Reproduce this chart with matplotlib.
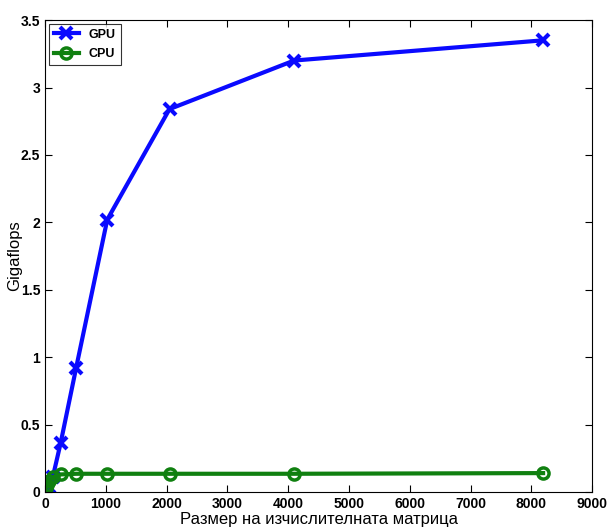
import matplotlib
matplotlib.use("Agg")
import matplotlib.pyplot as plt
from matplotlib.ticker import FuncFormatter

plt.rcParams["font.family"] = ["Liberation Sans", "DejaVu Sans"]

sizes = [16, 32, 64, 128, 256, 512, 1024, 2048, 4096, 8192]
gpu_gflops = [0.0, 0.01, 0.04, 0.11, 0.36, 0.92, 2.02, 2.84, 3.20, 3.35]
cpu_gflops = [0.03, 0.05, 0.08, 0.11, 0.13, 0.135, 0.135, 0.135, 0.135, 0.14]

x_ticks = list(range(0, 9001, 1000))
y_ticks = [0, 0.5, 1, 1.5, 2, 2.5, 3, 3.5]

fig = plt.figure(figsize=(6.08, 5.29), dpi=100)
ax = fig.add_axes([0.074, 0.070, 0.9, 0.892])

ax.plot(sizes, gpu_gflops, color="#0a0aff", lw=3, marker="x", ms=9, mew=3, label="GPU")
ax.plot(sizes, cpu_gflops, color="#108010", lw=3, marker="o", ms=8, mew=2.5,
        mfc="none", label="CPU")

ax.set_xlim(0, 9000)
ax.set_ylim(0, 3.5)
ax.set_xticks(x_ticks)
ax.set_yticks(y_ticks)
ax.yaxis.set_major_formatter(FuncFormatter(lambda v, p: f"{v:g}"))
ax.tick_params(direction="in", length=5, labelsize=10, top=True, right=True)
for lbl in ax.get_xticklabels() + ax.get_yticklabels():
    lbl.set_fontweight("bold")

ax.set_xlabel("Размер на изчислителната матрица", fontsize=12, labelpad=1)
ax.set_ylabel("Gigaflops", fontsize=12, va="center")
ax.yaxis.set_label_coords(-0.056, 0.5)

leg = ax.legend(loc="upper left", prop={"weight": "bold", "size": 9},
                fancybox=False, edgecolor="black", handlelength=2.0,
                borderaxespad=0.3, labelspacing=0.6)
leg.get_frame().set_linewidth(0.8)

fig.savefig("out.png", dpi=100)
